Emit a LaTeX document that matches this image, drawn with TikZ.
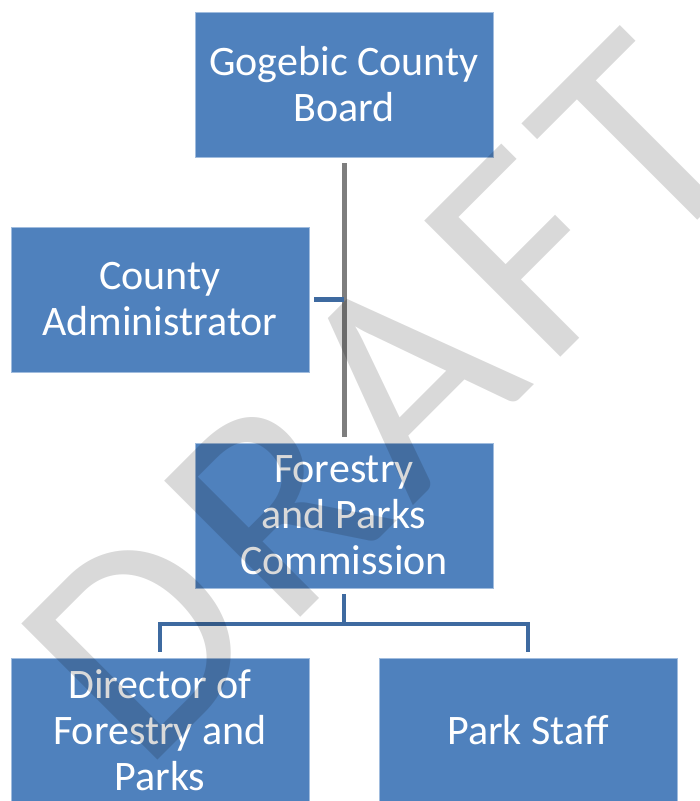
\documentclass[tikz,border=0pt]{standalone}
\usepackage{fontspec}
\setmainfont{Carlito}
\usepackage{xcolor}
\usetikzlibrary{positioning, calc}

\definecolor{boxblue}{RGB}{79,129,189}
\definecolor{boxedge}{RGB}{160,188,222}
\definecolor{linkblue}{RGB}{62,106,160}
\definecolor{linkgray}{RGB}{126,126,126}

\begin{document}
\begin{tikzpicture}[x=1pt, y=-1pt,
    orgbox/.style={draw=boxedge, line width=0.8pt, fill=boxblue, minimum width=298pt, minimum height=145pt,
                   inner sep=2pt, align=center, text=white, font=\fontsize{42}{46}\selectfont},
    grayline/.style={draw=linkgray, line width=5pt},
    blueline/.style={draw=linkblue, line width=4.5pt, line join=miter},
    wmark/.style={text=black, text opacity=0.15, inner sep=0pt, anchor=base, rotate=45,
                  font=\fontsize{300}{300}\selectfont\addfontfeature{LetterSpace=5.5}},
    ]
    \useasboundingbox (0,0) rectangle (700,801);

    % top of the chart
    \node[orgbox] (board) at (344,84.5) {Gogebic County\\Board};

    % side box and commission below the board
    \node[orgbox] (admin) at (160,299.5) {County\\Administrator};
    \node[orgbox] (comm) at (344,515.5) {Forestry\\and Parks\\Commission};

    % bottom row
    \node[orgbox] (director) at (160,730.5) {Director of\\Forestry and\\Parks};
    \node[orgbox] (staff) at (528,730.5) {Park Staff};

    % board to commission, with the administrator hooked on
    \draw[grayline] ([yshift=-6pt]board.south) -- ([yshift=6pt]comm.north) coordinate[pos=0.5] (spine);
    \draw[blueline] ([xshift=5pt]admin.east) -- (admin.east -| spine);

    % commission to the bottom row
    \draw[blueline] ([yshift=-6pt]comm.south) -- ++(0,29.5) coordinate (fork) -| ([yshift=6pt]director.north);
    \draw[blueline] (fork) -| ([yshift=6pt]staff.north);

    % watermark over everything
    \node[wmark] (draft) at (451,467) {DRAFT};
\end{tikzpicture}
\end{document}
